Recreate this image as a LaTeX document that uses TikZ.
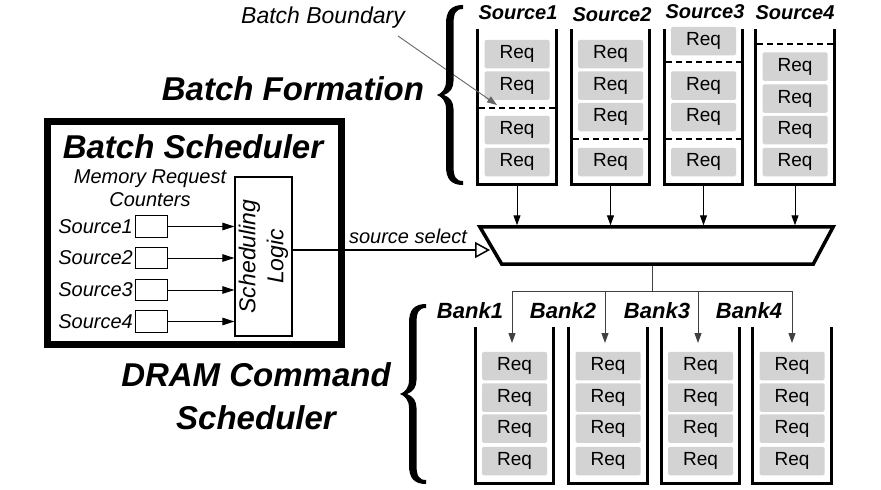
\documentclass[tikz,border=0pt]{standalone}
\usepackage{fontspec}
\setmainfont{Liberation Sans}
\usetikzlibrary{arrows.meta}
\definecolor{reqgray}{RGB}{211,211,211}
\begin{document}
\begin{tikzpicture}[x=1pt,y=-1pt,
  req/.style={fill=reqgray, rounded corners=1.5pt, minimum width=65pt, minimum height=28.5pt, inner sep=0pt, font=\fontsize{19}{20}\selectfont},
  stackframe/.style={minimum width=78pt, inner sep=0pt},
  wall/.style={line width=3pt, line join=miter},
  bdash/.style={line width=2pt, dash pattern=on 6pt off 4pt},
  darr/.style={line width=1pt, -{Triangle[length=10pt,width=7pt]}},
  garr/.style={line width=1pt, black!75, -{Triangle[length=10pt,width=7pt]}},
  gline/.style={line width=1pt, black!75},
  sarr/.style={line width=1pt, -{Triangle[length=12pt,width=7.5pt]}},
  title/.style={font=\fontsize{20}{22}\selectfont\bfseries\itshape},
  banktitle/.style={font=\fontsize{22}{24}\selectfont\bfseries\itshape},
  big/.style={font=\fontsize{33}{43}\selectfont\bfseries\itshape, align=center},
  lab/.style={font=\fontsize{20}{23}\selectfont\itshape},
  cbox/.style={draw, line width=1pt, minimum width=32pt, minimum height=21.5pt, inner sep=0pt},
  fbrace/.pic={
    \fill (26,0) .. controls (14,0) and (9,6) .. (9,19) -- (9,76)
      .. controls (9,84) and (5,88) .. (0,90)
      .. controls (5,92) and (9,96) .. (9,104) -- (9,161)
      .. controls (9,174) and (14,180) .. (26,180) -- (26,176)
      .. controls (19,176) and (16.5,172) .. (16.5,161) -- (16.5,104)
      .. controls (16.5,97) and (13,92) .. (7,90)
      .. controls (13,88) and (16.5,83) .. (16.5,76) -- (16.5,19)
      .. controls (16.5,8) and (19,4) .. (26,4) -- cycle;
  }
]
\useasboundingbox (0,0) rectangle (881,490);

% ---------- Source stacks ----------
\foreach \n/\x in {1/517, 2/610.5, 3/703.5, 4/795}{
  \node[stackframe, minimum height=155pt] (S\n) at (\x,106.5) {};
  \draw[wall] (S\n.north west) -- (S\n.south west) -- (S\n.south east) -- (S\n.north east);
}
\node[title] (T1) at (518,13) {Source1};
\node[title] (T2) at (612,15) {Source2};
\node[title] (T3) at (705,12) {Source3};
\node[title] (T4) at (795,13) {Source4};

% Source1
\node[req] (S1a) at (517,54) {Req};
\node[req] (S1b) at (517,85.5) {Req};
\node[req] (S1c) at (517,130) {Req};
\node[req] (S1d) at (517,162) {Req};
\draw[bdash] ([xshift=1.5pt]S1.west |- 0,108) -- ([xshift=-1.5pt]S1.east |- 0,108);
% Source2
\node[req] (S2a) at (610.5,54) {Req};
\node[req] (S2b) at (610.5,85.5) {Req};
\node[req] (S2c) at (610.5,117) {Req};
\node[req] (S2d) at (610.5,162) {Req};
\draw[bdash] ([xshift=1.5pt]S2.west |- 0,139) -- ([xshift=-1.5pt]S2.east |- 0,139);
% Source3
\node[req] (S3a) at (703.5,41) {Req};
\node[req] (S3b) at (703.5,85.5) {Req};
\node[req] (S3c) at (703.5,117) {Req};
\node[req] (S3d) at (703.5,162) {Req};
\draw[bdash] ([xshift=1.5pt]S3.west |- 0,62) -- ([xshift=-1.5pt]S3.east |- 0,62);
\draw[bdash] ([xshift=1.5pt]S3.west |- 0,139) -- ([xshift=-1.5pt]S3.east |- 0,139);
% Source4
\node[req] (S4a) at (795,66.5) {Req};
\node[req] (S4b) at (795,98.5) {Req};
\node[req] (S4c) at (795,130) {Req};
\node[req] (S4d) at (795,162) {Req};
\draw[bdash] ([xshift=1.5pt]S4.west |- 0,44) -- ([xshift=-1.5pt]S4.east |- 0,44);

% ---------- Mux ----------
\node[inner sep=0pt, minimum width=353pt, minimum height=37pt] (mux) at (656.5,245.5) {};
\draw[line width=3.5pt, line join=miter] (mux.north west) -- (mux.north east) -- ([xshift=-20pt]mux.south east) -- ([xshift=22pt]mux.south west) -- cycle;
\foreach \n in {1,2,3,4}{
  \draw[darr] ([yshift=-1.5pt]S\n.south) -- ([yshift=1.5pt]S\n.south |- mux.north);
}

% ---------- Bank stacks ----------
\foreach \n/\x in {1/514.5, 2/608, 3/700.5, 4/792}{
  \node[stackframe, minimum height=156pt] (B\n) at (\x,405) {};
  \draw[wall] (B\n.north west) -- (B\n.south west) -- (B\n.south east) -- (B\n.north east);
  \node[req] (B\n a) at (\x,366) {Req};
  \node[req] (B\n b) at (\x,397.5) {Req};
  \node[req] (B\n c) at (\x,428.5) {Req};
  \node[req] (B\n d) at (\x,461) {Req};
}
\node[banktitle] (BT1) at (470,311) {Bank1};
\node[banktitle] (BT2) at (563,311) {Bank2};
\node[banktitle] (BT3) at (657,311) {Bank3};
\node[banktitle] (BT4) at (749,311) {Bank4};

\coordinate (split) at (652,291);
\coordinate (bin1) at (512,343);
\coordinate (bin2) at (605,343);
\coordinate (bin3) at (698,343);
\coordinate (bin4) at (792,343);
\draw[gline] ([yshift=-1.5pt]split |- mux.south) -- (split);
\draw[garr] (split) -| (bin1);
\draw[garr] (split) -| (bin2);
\draw[garr] (split) -| (bin3);
\draw[garr] (split) -| (bin4);

% ---------- Batch Scheduler ----------
\node[draw, line width=7pt, minimum width=294pt, minimum height=223pt, inner sep=0pt] (BS) at (194.5,233) {};
\node[big] (BStitle) at (193,147) {Batch Scheduler};
\node[lab, align=center] (MRC) at (150,188.5) {Memory Request\\Counters};
\node[draw, line width=1.2pt, minimum width=57pt, minimum height=159pt, inner sep=0pt] (SL) at (263.5,256.5) {};
\node[rotate=90, align=center, font=\fontsize{23}{28}\selectfont\itshape] (SLtext) at (SL.center) {Scheduling\\Logic};

\foreach \n/\y in {1/226.5, 2/258, 3/290, 4/321.5}{
  \node[cbox] (C\n) at (151,\y) {};
  \node[lab, anchor=east, inner sep=1.5pt] (CL\n) at (C\n.west) {Source\n};
  \draw[sarr] (C\n.east) -- (C\n.east -| SL.west);
}

\coordinate (ssin) at (490,250);
\draw[line width=1.5pt, -{Triangle[open, length=15pt, width=16pt, line width=1.5pt]}] (SL.east |- ssin) -- (ssin);
\node[lab] (SS) at (408,236) {source select};

% ---------- Labels and braces ----------
\node[font=\fontsize{23}{25}\selectfont\itshape] (BB) at (323,18) {Batch Boundary};
\coordinate (bbstart) at (398,36);
\coordinate (bbtip) at (497,105);
\draw[line width=0.9pt, black!60, -{Triangle[length=10pt,width=7pt]}] (bbstart) -- (bbtip);

\node[big] (BF) at (293,89) {Batch Formation};
\pic at (437,5) {fbrace};

\node[big] (DCS) at (256,396.5) {DRAM Command\\Scheduler};
\pic at (400,304) {fbrace};
\end{tikzpicture}
\end{document}
